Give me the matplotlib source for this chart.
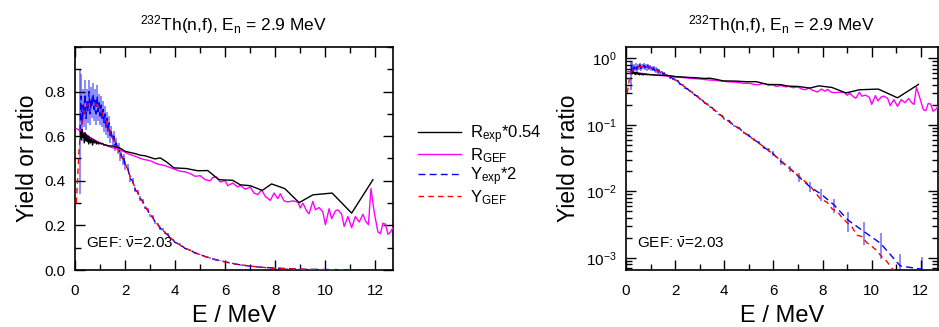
import numpy as np
import matplotlib
matplotlib.use("Agg")
import matplotlib.pyplot as plt
from matplotlib.ticker import MultipleLocator, LogLocator, NullFormatter

plt.rcParams['font.family'] = ['Liberation Sans', 'DejaVu Sans']
plt.rcParams['mathtext.default'] = 'regular'

# R_exp * 0.54 (black)
e_rexp = [0.22, 0.25, 0.28, 0.31, 0.34, 0.37, 0.40, 0.43, 0.46, 0.49, 0.52, 0.55, 0.58,
          0.62, 0.66, 0.70, 0.74, 0.78, 0.82, 0.86, 0.90, 0.95, 1.00, 1.05, 1.10, 1.15,
          1.20, 1.30, 1.40, 1.50, 1.60, 1.70, 1.80, 1.90, 2.00, 2.20, 2.40, 2.60, 2.80,
          3.00, 3.20, 3.40, 3.65, 3.95, 4.45, 4.90, 5.30, 5.75, 6.30, 6.60, 7.00, 7.48,
          7.85, 8.38, 8.95, 9.50, 10.27, 11.05, 11.90]
r_exp = [0.62, 0.585, 0.63, 0.595, 0.61, 0.57, 0.615, 0.58, 0.605, 0.575, 0.60, 0.565, 0.595,
         0.57, 0.59, 0.56, 0.585, 0.57, 0.58, 0.565, 0.575, 0.565, 0.57, 0.565, 0.568, 0.56,
         0.562, 0.558, 0.556, 0.556, 0.552, 0.55, 0.546, 0.54, 0.532, 0.527, 0.522, 0.515, 0.512,
         0.505, 0.498, 0.503, 0.485, 0.458, 0.455, 0.445, 0.446, 0.405, 0.402, 0.382, 0.378, 0.357,
         0.386, 0.365, 0.302, 0.337, 0.345, 0.255, 0.405]

# R_GEF (magenta)
e_rgef = [0.05, 0.3, 0.6, 0.9, 1.2, 1.5, 1.8, 2.1, 2.4, 2.7, 3.0, 3.3, 3.6, 3.9, 4.2, 4.4,
          4.6, 4.8, 5.0, 5.2, 5.4, 5.5, 5.65, 5.8, 6.0, 6.1, 6.3, 6.5, 6.6, 6.8, 7.0, 7.15,
          7.3, 7.45, 7.6, 7.8, 7.95, 8.1, 8.2, 8.35, 8.5, 8.7, 8.9, 9.0, 9.1, 9.25, 9.35,
          9.5, 9.6, 9.75, 9.9, 10.0, 10.15, 10.25, 10.4, 10.5, 10.65, 10.75, 10.9, 11.05,
          11.2, 11.35, 11.5, 11.6, 11.72, 11.82, 11.95, 12.1, 12.2, 12.3, 12.4, 12.5, 12.6, 12.7]
r_gef = [0.634, 0.62, 0.595, 0.575, 0.56, 0.548, 0.54, 0.522, 0.51, 0.497, 0.49, 0.475, 0.468,
         0.455, 0.443, 0.44, 0.432, 0.42, 0.423, 0.405, 0.40, 0.415, 0.417, 0.395, 0.40, 0.378,
         0.39, 0.372, 0.38, 0.362, 0.372, 0.345, 0.338, 0.36, 0.33, 0.312, 0.345, 0.32, 0.342,
         0.31, 0.305, 0.31, 0.305, 0.278, 0.30, 0.265, 0.252, 0.308, 0.27, 0.28, 0.26, 0.203,
         0.275, 0.23, 0.265, 0.27, 0.25, 0.195, 0.24, 0.19, 0.24, 0.215, 0.25, 0.22, 0.203,
         0.365, 0.26, 0.17, 0.163, 0.21, 0.205, 0.16, 0.17, 0.19]

# Y_exp * 2 (blue) with errors
e_yexp = [0.20, 0.24, 0.28, 0.32, 0.36, 0.40, 0.44, 0.48, 0.52, 0.56, 0.60, 0.64, 0.68, 0.72,
          0.76, 0.80, 0.84, 0.88, 0.92, 0.96, 1.00, 1.04, 1.08, 1.12, 1.16, 1.20, 1.24, 1.28,
          1.32, 1.36, 1.40, 1.45, 1.50, 1.55, 1.60, 1.65, 1.70, 1.75, 1.80, 1.85, 1.90, 1.95,
          2.00, 2.10, 2.20, 2.30, 2.40, 2.50, 2.60, 2.70, 2.80, 2.90, 3.00, 3.10, 3.20, 3.30,
          3.40, 3.50, 3.60, 3.70, 3.80, 3.90, 4.00, 4.20, 4.40, 4.60, 4.80, 5.00, 5.20, 5.40,
          5.60, 5.80, 5.98, 6.30, 6.68, 7.06, 7.49, 7.94, 8.46, 9.04, 9.68, 10.36, 11.16, 12.04]
y_exp = [0.62, 0.78, 0.66, 0.74, 0.70, 0.79, 0.68, 0.76, 0.71, 0.80, 0.70, 0.77, 0.73, 0.79,
         0.72, 0.76, 0.70, 0.78, 0.71, 0.75, 0.69, 0.74, 0.68, 0.72, 0.66, 0.70, 0.64, 0.68,
         0.62, 0.66, 0.60, 0.62, 0.58, 0.60, 0.56, 0.57, 0.54, 0.55, 0.51, 0.52, 0.49, 0.50,
         0.47, 0.46, 0.41, 0.40, 0.36, 0.35, 0.32, 0.31, 0.28, 0.27, 0.245, 0.238, 0.214, 0.206,
         0.186, 0.182, 0.165, 0.159, 0.143, 0.137, 0.123, 0.115, 0.096, 0.090, 0.076, 0.069,
         0.060, 0.054, 0.046, 0.042, 0.0372, 0.0282, 0.0219, 0.0162, 0.0117, 0.0091, 0.0063,
         0.0037, 0.0025, 0.00166, 0.00076, 0.00068]
y_err = [0.28, 0.10, 0.08, 0.07, 0.06, 0.06, 0.05, 0.05, 0.05, 0.05, 0.05, 0.05, 0.05, 0.05,
         0.05, 0.05, 0.05, 0.05, 0.04, 0.04, 0.04, 0.04, 0.04, 0.04, 0.04, 0.035, 0.035, 0.03,
         0.03, 0.03, 0.03, 0.025, 0.025, 0.025, 0.025, 0.02, 0.02, 0.02, 0.02, 0.02, 0.02, 0.02,
         0.02, 0.015, 0.015, 0.012, 0.012, 0.01, 0.01, 0.009, 0.008, 0.008, 0.007, 0.007, 0.006,
         0.006, 0.005, 0.005, 0.005, 0.005, 0.004, 0.004, 0.004, 0.004, 0.003, 0.003, 0.003,
         0.003, 0.003, 0.0025, 0.0025, 0.0025, 0.0034, 0.0031, 0.0026, 0.0024, 0.002, 0.0018,
         0.0015, 0.0012, 0.00093, 0.00068, 0.00038, 0.00034]

# Y_GEF (red)
e_ygef = [0.05, 0.10, 0.15, 0.20, 0.30, 0.40, 0.50, 0.60, 0.70, 0.80, 0.90, 1.00, 1.10, 1.20,
          1.30, 1.40, 1.50, 1.60, 1.70, 1.80, 1.90, 2.00, 2.20, 2.40, 2.60, 2.80, 3.00, 3.25,
          3.50, 3.75, 4.00, 4.25, 4.50, 5.00, 5.50, 6.00, 6.50, 7.00, 7.50, 7.90, 8.20, 8.40,
          8.60, 8.80, 9.00, 9.20, 9.40, 9.60, 9.80, 10.00, 10.20, 10.40, 10.60, 10.80, 11.00]
y_gef = [0.30, 0.40, 0.52, 0.60, 0.68, 0.72, 0.74, 0.75, 0.75, 0.745, 0.735, 0.72, 0.70, 0.68,
         0.65, 0.62, 0.59, 0.57, 0.55, 0.52, 0.50, 0.48, 0.42, 0.37, 0.325, 0.285, 0.25, 0.21,
         0.18, 0.15, 0.127, 0.107, 0.093, 0.068, 0.050, 0.036, 0.025, 0.0175, 0.012, 0.0078,
         0.0068, 0.0054, 0.0050, 0.0040, 0.0034, 0.0029, 0.0022, 0.0021, 0.0017, 0.0015,
         0.0013, 0.00105, 0.0009, 0.00072, 0.00058]

title = r'$^{232}$Th(n,f), E$_{n}$ = 2.9 MeV'
note = r'GEF: $\bar{\nu}$=2.03'

fig = plt.figure(figsize=(9.39, 3.27), dpi=100)
ax1 = fig.add_axes([0.0799, 0.1743, 0.3386, 0.682])
ax2 = fig.add_axes([0.6667, 0.1743, 0.3323, 0.682])

for ax in (ax1, ax2):
    ax.errorbar(e_yexp, y_exp, yerr=y_err, fmt='none', ecolor=(0.3, 0.3, 1.0),
                elinewidth=1.3, alpha=0.7, zorder=1)
    ax.plot(e_yexp, y_exp, color='#0000ff', lw=1.0, dashes=(5, 3), label=r'Y$_{exp}$*2', zorder=3)
    ax.plot(e_ygef, y_gef, color='#ff0000', lw=1.0, dashes=(4, 3), label=r'Y$_{GEF}$', zorder=4)
    ax.plot(e_rexp, r_exp, color='black', lw=1.0, label=r'R$_{exp}$*0.54', zorder=5)
    ax.plot(e_rgef, r_gef, color='#ff00ff', lw=1.0, label=r'R$_{GEF}$', zorder=4)

    ax.set_xlim(0, 12.7)
    ax.xaxis.set_major_locator(MultipleLocator(2))
    ax.xaxis.set_minor_locator(MultipleLocator(1))
    ax.tick_params(which='both', direction='in', top=True, right=True, labelsize=11, width=1)
    ax.tick_params(which='major', length=7)
    ax.tick_params(which='minor', length=4)
    ax.tick_params(axis='x', pad=10)
    ax.tick_params(axis='y', pad=7)
    for s in ax.spines.values():
        s.set_linewidth(1.2)
    ax.set_xlabel('E / MeV', fontsize=17, labelpad=5)
    ax.set_ylabel('Yield or ratio', fontsize=16.5, labelpad=4)
    ax.set_title(title, fontsize=12.5, pad=12)
    ax.text(0.035, 0.12, note, transform=ax.transAxes, fontsize=11, va='center')

ax1.set_ylim(0, 1.0)
ax1.set_yticks([0.0, 0.2, 0.4, 0.6, 0.8])
ax1.set_yticklabels(['0.0', '0.2', '0.4', '0.6', '0.8'])
ax1.yaxis.set_minor_locator(MultipleLocator(0.1))

ax2.set_yscale('log')
ax2.set_ylim(6.6e-4, 1.48)
ax2.yaxis.set_major_locator(LogLocator(base=10, numticks=10))
ax2.yaxis.set_minor_locator(LogLocator(base=10, subs=np.arange(2, 10), numticks=20))
ax2.yaxis.set_minor_formatter(NullFormatter())

h, l = ax1.get_legend_handles_labels()
order = [2, 3, 0, 1]
fig.legend([h[i] for i in order], [l[i] for i in order], loc='center left',
           bbox_to_anchor=(418 / 939, 0.495), frameon=False, fontsize=12,
           handlelength=2.6, handletextpad=0.5, labelspacing=0.02,
           borderpad=0, borderaxespad=0)

fig.savefig('out.png', dpi=100)
